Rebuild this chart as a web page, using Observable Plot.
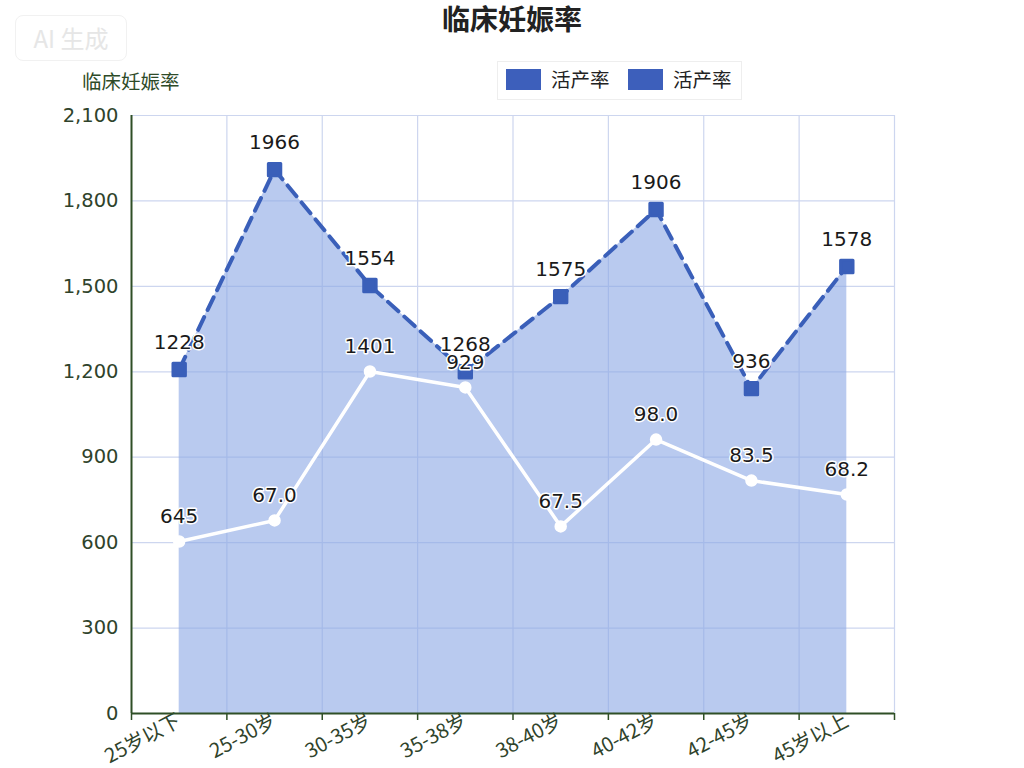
<!DOCTYPE html>
<html>
<head>
<meta charset="utf-8">
<script src="https://cdn.jsdelivr.net/npm/d3@7"></script>
<script src="https://cdn.jsdelivr.net/npm/@observablehq/plot@0.6"></script>
<style>
  html, body { margin: 0; padding: 0; background: #fff; }
  #wrap { position: relative; width: 1024px; height: 768px; font-family: "DejaVu Sans", "Noto Sans CJK SC", sans-serif; }
  #wrap svg { position: absolute; left: 0; top: 0; }
  .title { position: absolute; left: 0; width: 1024px; top: -2px; text-align: center; font-family: "Noto Sans CJK SC", sans-serif; font-weight: bold; font-size: 28px; color: #222; line-height: 40px; }
  .ytitle { position: absolute; left: 82px; top: 66px; font-family: "Noto Sans CJK SC", sans-serif; font-size: 19.5px; color: #2d4a28; }
  .legend { position: absolute; left: 497px; top: 61px; width: 243px; height: 37px; border: 1px solid #eeeeee; background: #fff; font-family: "Noto Sans CJK SC", sans-serif; font-size: 19.5px; color: #222; }
  .sw { position: absolute; top: 7px; width: 35px; height: 21px; background: #3d5fbb; }
  .lt { position: absolute; top: 2px; }
  .wm { position: absolute; left: 15px; top: 15px; width: 110px; height: 44px; border: 1px solid #f1f1f1; border-radius: 8px; font-family: "Noto Sans CJK SC", sans-serif; font-size: 24px; color: #e6e6e6; text-align: center; line-height: 44px; }
</style>
</head>
<body>
<div id="wrap">
  <div class="wm">AI 生成</div>
  <div class="title">临床妊娠率</div>
  <div class="ytitle">临床妊娠率</div>
  <div class="legend">
    <div class="sw" style="left:8px"></div><div class="lt" style="left:53px">活产率</div>
    <div class="sw" style="left:130px"></div><div class="lt" style="left:175px">活产率</div>
  </div>
</div>
<script>
const categories = ["25岁以下", "25-30岁", "30-35岁", "35-38岁", "38-40岁", "40-42岁", "42-45岁", "45岁以上"];
const blueValues = [1208, 1910, 1503, 1200, 1464, 1770, 1141, 1570];
const blueLabels = ["1228", "1966", "1554", "1268", "1575", "1906", "936", "1578"];
const whiteValues = [604, 678, 1201, 1145, 657, 962, 818, 769];
const whiteLabels = ["645", "67.0", "1401", "929", "67.5", "98.0", "83.5", "68.2"];
const yTicks = [0, 300, 600, 900, 1200, 1500, 1800, 2100];

const idx = categories.map((_, i) => i);
const bounds = d3.range(-0.5, categories.length, 1);
const blueData = idx.map(i => ({i, v: blueValues[i], label: blueLabels[i]}));
const whiteData = idx.map(i => ({i, v: whiteValues[i], label: whiteLabels[i]}));

const axisColor = "#2f4f26";
const gridColor = "#cdd6ef";
const blue = "#3a5fb9";
const tickText = "#2f432b";

const chart = Plot.plot({
  width: 1024,
  height: 768,
  marginLeft: 131,
  marginRight: 130,
  marginTop: 115,
  marginBottom: 55,
  style: {fontFamily: "DejaVu Sans, Noto Sans CJK SC, sans-serif", fontSize: "19px", background: "transparent", overflow: "visible"},
  x: {type: "linear", domain: [-0.5, categories.length - 0.5]},
  y: {domain: [0, 2100]},
  marks: [
    Plot.ruleY(yTicks, {stroke: gridColor, strokeWidth: 1.2}),
    Plot.ruleX(bounds.slice(1), {stroke: gridColor, strokeWidth: 1.2}),
    Plot.areaY(blueData, {x: "i", y: "v", fill: "#8aa6e4", fillOpacity: 0.6}),
    Plot.lineY(blueData, {x: "i", y: "v", stroke: blue, strokeWidth: 4, strokeDasharray: "14,8"}),
    Plot.dot(blueData, {x: "i", y: "v", symbol: "square", r: 7, fill: blue, stroke: blue, strokeWidth: 3, strokeLinejoin: "round"}),
    Plot.lineY(whiteData, {x: "i", y: "v", stroke: "white", strokeWidth: 3.5}),
    Plot.dot(whiteData, {x: "i", y: "v", r: 5.5, fill: "white", stroke: "white"}),
    Plot.text(blueData, {x: "i", y: "v", text: "label", dy: -27, fontSize: 20, fill: "#1a1a1a", stroke: "white", strokeWidth: 3}),
    Plot.text(whiteData, {x: "i", y: "v", text: "label", dy: -25, fontSize: 20, fill: "#1a1a1a", stroke: "white", strokeWidth: 3}),
    Plot.axisY({ticks: yTicks, tickFormat: d3.format(","), tickSize: 0, tickPadding: 13, fill: tickText, fontSize: 19.5, label: null}),
    Plot.axisX({ticks: bounds, tickFormat: () => "", tickSize: 7, stroke: axisColor, strokeWidth: 1.5, label: null}),
    Plot.axisX({ticks: idx, tickFormat: i => categories[i], tickSize: 0, tickPadding: 6, tickRotate: -28, fill: tickText, fontSize: 20, fontFamily: "Noto Sans CJK SC, sans-serif", label: null}),
    Plot.ruleX([-0.5], {stroke: axisColor, strokeWidth: 2}),
    Plot.ruleY([0], {stroke: axisColor, strokeWidth: 2})
  ]
});
document.getElementById("wrap").appendChild(chart);
</script>
</body>
</html>
